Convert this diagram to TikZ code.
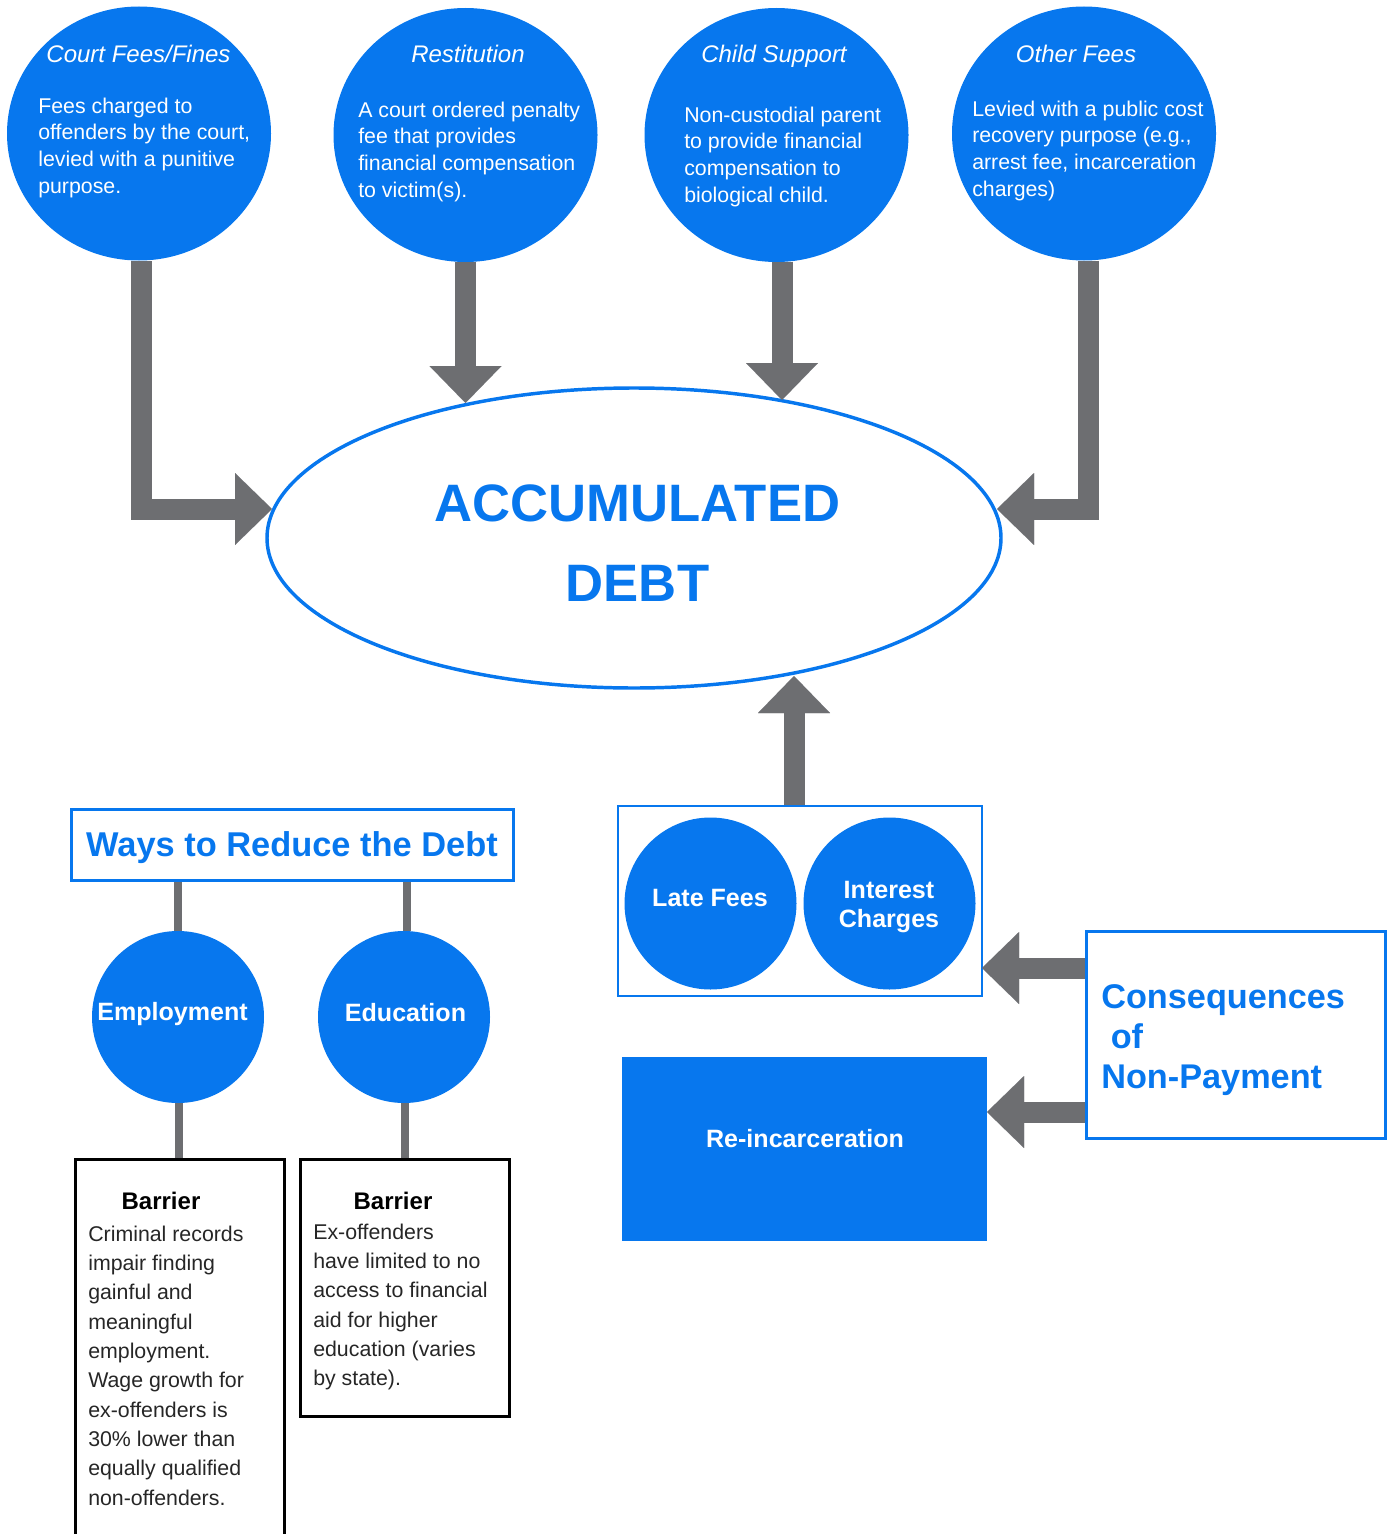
\documentclass[tikz,border=0pt]{standalone}
\usepackage{fontspec}
\setmainfont{Liberation Sans}
\usetikzlibrary{shapes.geometric,arrows.meta}
\definecolor{myblue}{RGB}{7,119,238}
\definecolor{mygray}{RGB}{109,110,113}
\begin{document}
\begin{tikzpicture}[x=0.75pt,y=-0.75pt,
  topc/.style={ellipse, fill=myblue, minimum width=198pt, minimum height=190.5pt, inner sep=0pt},
  ttl/.style={font=\fontsize{18}{22}\selectfont\itshape, text=white, anchor=base, inner sep=0pt},
  bodyt/.style={font=\fontsize{16}{20}\selectfont, text=white, align=left, anchor=north west, inner sep=0pt},
  bigarrow/.style={draw=mygray, line width=15.75pt, line join=miter, -{Triangle[width=54pt,length=27.75pt,line width=0.01pt]}},
  smallc/.style={circle, fill=myblue, minimum size=129pt, inner sep=0pt},
  whitebold/.style={font=\fontsize{18.8}{21.75}\selectfont\bfseries, text=white, inner sep=0pt},
  blueframe/.style={draw=myblue, line width=2pt, inner sep=0pt},
  barrierbox/.style={draw=black, line width=2.25pt, minimum width=156.75pt, inner sep=0pt},
  barrierhead/.style={font=\fontsize{18}{22}\selectfont\bfseries, text=black, anchor=base, inner sep=0pt},
  barriertext/.style={font=\fontsize{16}{22}\selectfont, align=left, anchor=north west, inner sep=0pt, text=black!85},
  stem/.style={draw=mygray, line width=6pt}
]
\useasboundingbox (0,0) rectangle (1387,1534);
\clip (0,0) rectangle (1387,1534);

% top circles
\node[topc] (c1) at (139,133.5) {};
\node[topc] (c2) at (465.5,135) {};
\node[topc] (c3) at (776.5,135) {};
\node[topc] (c4) at (1084,133.5) {};

\node[ttl] (c1t) at (138.5,62.6) {Court Fees/Fines};
\node[ttl] (c2t) at (468,62.6) {Restitution};
\node[ttl] (c3t) at (774,62.6) {Child Support};
\node[ttl] (c4t) at (1076,62.6) {Other Fees};

\node[bodyt] (c1b) at (38,97.4) {Fees charged to\\offenders by the court,\\levied with a punitive\\purpose.};
\node[bodyt] (c2b) at (358,101.4) {A court ordered penalty\\fee that provides\\financial compensation\\to victim(s).};
\node[bodyt] (c3b) at (684,106.4) {Non-custodial parent\\to provide financial\\compensation to\\biological child.};
\node[bodyt] (c4b) at (972,100.4) {Levied with a public cost\\recovery purpose (e.g.,\\arrest fee, incarceration\\charges)};

% central ellipse
\node[ellipse, draw=myblue, line width=2.6pt, minimum width=550.5pt, minimum height=225pt, inner sep=0pt] (debt) at (634,538) {};
\node[font=\fontsize{39.5}{60}\selectfont\bfseries, text=myblue, align=center, anchor=north, inner sep=0pt] (debtt) at (637.5,484) {ACCUMULATED\\DEBT};

% arrows into the debt
\coordinate (e1) at (272,509);
\coordinate (e2) at (465.5,403);
\coordinate (e3) at (782,400);
\coordinate (e4) at (997,509);
\draw[bigarrow] ([xshift=1.6pt]c1.south) |- (e1);
\draw[bigarrow] (c2.south) -- (e2);
\draw[bigarrow] (e3 |- c3.south) -- (e3);
\draw[bigarrow] ([xshift=3pt]c4.south) |- (e4);

% late fees / interest group
\node[blueframe, minimum width=273pt, minimum height=142.5pt] (lbox) at (800,901) {};
\node[smallc] (late) at (710.5,903.5) {};
\node[smallc] (inter) at (889.5,903.5) {};
\node[whitebold, anchor=base] (latet) at (710,906) {Late Fees};
\node[whitebold, align=center, anchor=north] (intert) at (889,881) {Interest\\Charges};
\coordinate (e5) at (794,676);
\draw[bigarrow] (e5 |- lbox.north) -- (e5);

% consequences
\node[blueframe, line width=2.25pt, minimum width=224.25pt, minimum height=155.25pt] (cons) at (1235.5,1034.5) {};
\node[font=\fontsize{25.7}{30}\selectfont\bfseries, text=myblue, align=left, anchor=north west, inner sep=0pt] (const) at (1101,984.7) {Consequences\\\hspace*{0.278em}of\\Non-Payment};
\node[fill=myblue, minimum width=273.75pt, minimum height=138pt, inner sep=0pt] (reinc) at (804.5,1149) {};
\node[whitebold, anchor=base] (reinct) at (805,1147) {Re-incarceration};
\coordinate (e6) at (982,968);
\coordinate (e7) at (987,1112);
\draw[bigarrow] (cons.west |- e6) -- (e6);
\draw[bigarrow] (cons.west |- e7) -- (e7);

% ways to reduce
\node[blueframe, line width=2.25pt, minimum width=331.5pt, minimum height=53.25pt, font=\fontsize{25.8}{30}\selectfont\bfseries, text=myblue, text height=18.5pt, text depth=0pt] (ways) at (292,844.5) {Ways to Reduce the Debt};
\node[barrierbox, minimum height=289.5pt] (b1) at (179.5,1352) {};
\node[barrierbox, minimum height=192.75pt] (b2) at (404.5,1287.5) {};
\node[smallc] (emp) at (178,1017) {};
\node[smallc] (edu) at (404,1017) {};
\node[whitebold, anchor=base] (empt) at (172.5,1020) {Employment};
\node[whitebold, anchor=base] (edut) at (405.5,1021) {Education};
\draw[stem] (emp.north |- ways.south) -- (emp.north);
\draw[stem] ([xshift=2pt]edu.north |- ways.south) -- ([xshift=2pt]edu.north);
\draw[stem] ([xshift=1pt]emp.south) -- ([xshift=1pt]emp.south |- b1.north);
\draw[stem] ([xshift=1pt]edu.south) -- ([xshift=1pt]edu.south |- b2.north);

\node[barrierhead] (b1h) at (161,1209.6) {Barrier};
\node[barrierhead] (b2h) at (393,1209.6) {Barrier};
\node[barriertext] (b1t) at (88,1225.4) {Criminal records\\impair finding\\gainful and\\meaningful\\employment.\\Wage growth for\\ex-offenders is\\30\% lower than\\equally qualified\\non-offenders.};
\node[barriertext] (b2t) at (313,1223.4) {Ex-offenders\\have limited to no\\access to financial\\aid for higher\\education (varies\\by state).};
\end{tikzpicture}
\end{document}
